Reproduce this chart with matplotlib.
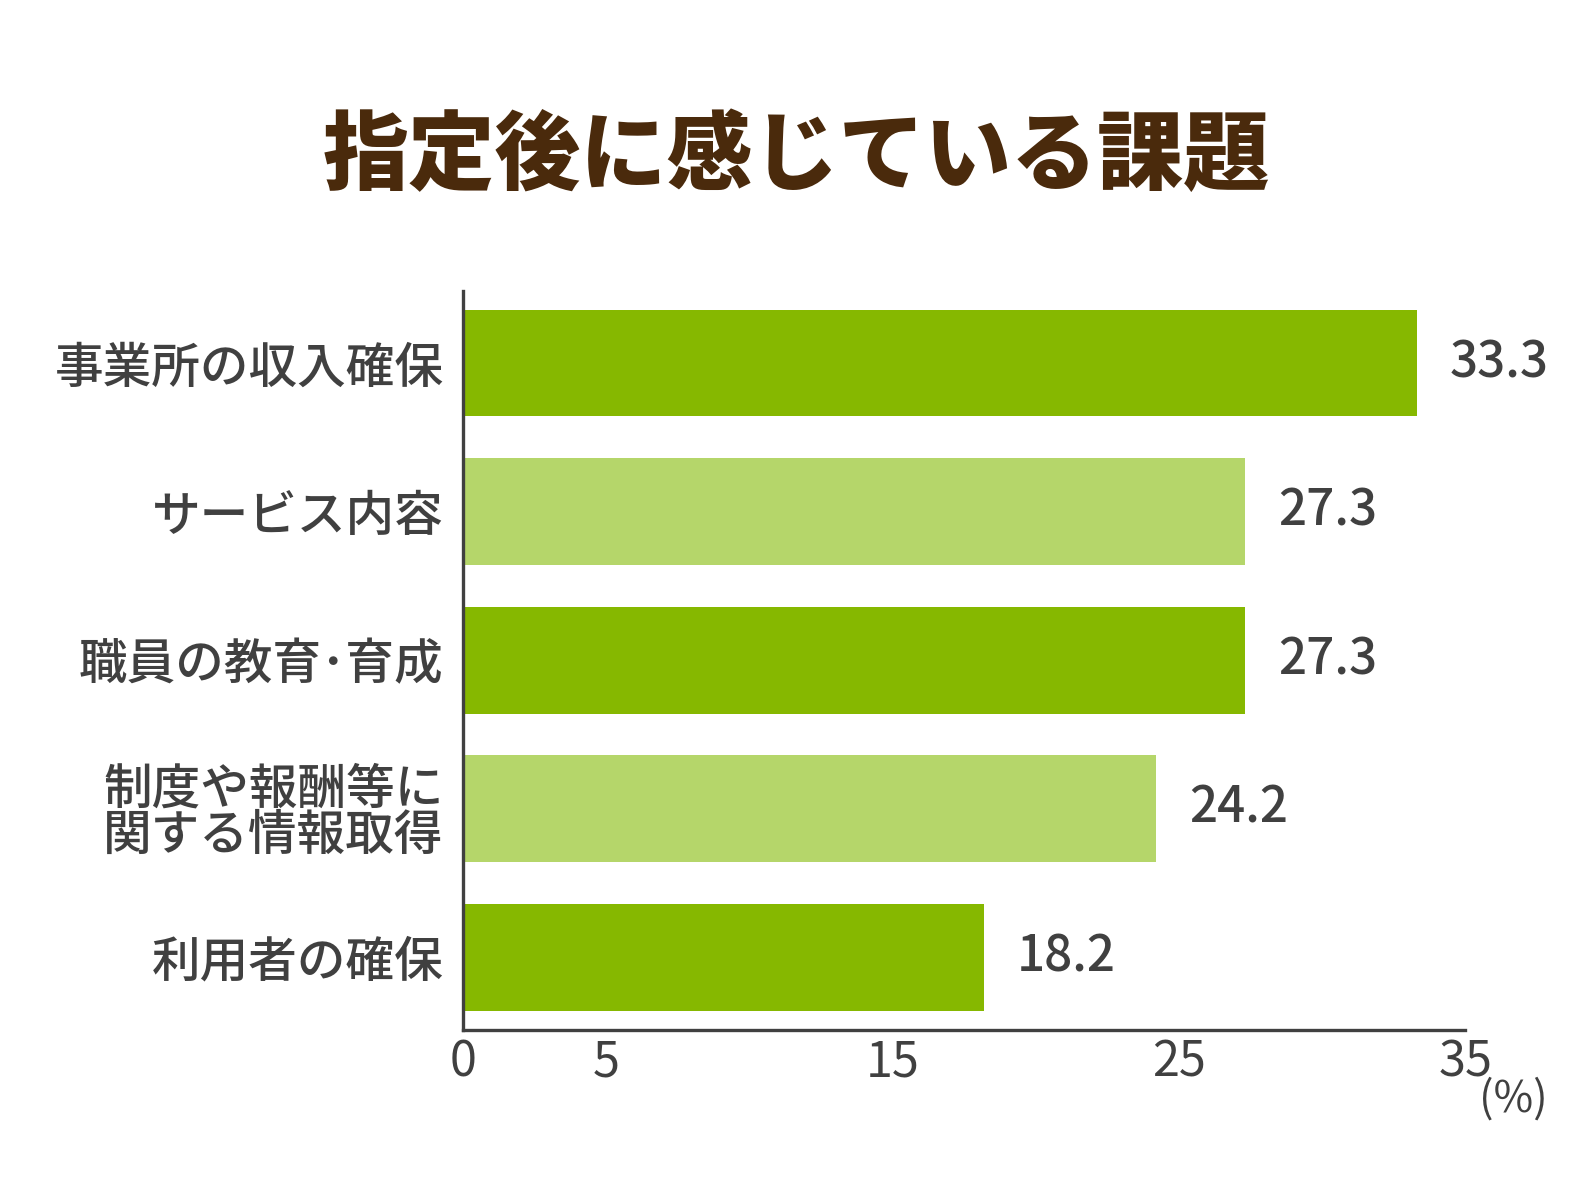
import numpy as np
import matplotlib.pyplot as plt

plt.rcParams['font.family'] = ['Noto Sans CJK JP', 'DejaVu Sans']

# data
categories = ["事業所の収入確保", "サービス内容", "職員の教育･育成", "制度や報酬等に\n関する情報取得", "利用者の確保"]
values = [33.3, 27.3, 27.3, 24.2, 18.2]
xticks = [0, 5, 15, 25, 35]
title = "指定後に感じている課題"

dark_green = "#86b800"
light_green = "#b5d66a"
text_color = "#404040"
colors = [dark_green if i % 2 == 0 else light_green for i in range(len(values))]

fig = plt.figure(figsize=(15.92, 11.94), dpi=100)
ax = fig.add_axes([0.2908, 0.1374, 0.9205 - 0.2908, 0.7563 - 0.1374])

y = np.arange(len(values))
ax.barh(y, values, height=0.72, color=colors)

for yi, v in zip(y, values):
    ax.text(v + 1.15, yi, f"{v:.1f}", va="center", ha="left", fontsize=35.5,
            color=text_color, fontweight="medium")

ax.set_xlim(0, 35)
ax.set_ylim(4.49, -0.485)
ax.set_yticks(y)
ax.set_yticklabels(categories, fontsize=35, color=text_color, fontweight="medium",
                   linespacing=0.92)
ax.set_xticks(xticks)
ax.set_xticklabels([str(t) for t in xticks], fontsize=35, color=text_color)
ax.tick_params(axis="both", length=0)
ax.tick_params(axis="y", pad=14)
ax.tick_params(axis="x", pad=6)

for s in ["top", "right"]:
    ax.spines[s].set_visible(False)
for s in ["left", "bottom"]:
    ax.spines[s].set_color(text_color)
    ax.spines[s].set_linewidth(2.4)

fig.text(0.9725, 0.079, "(%)", fontsize=31, color=text_color, ha="right", va="center")
fig.text(0.5, 0.868, title, fontsize=62, fontweight="black", color="#4a2a0c",
         ha="center", va="center")

fig.savefig("out.png", dpi=100)
